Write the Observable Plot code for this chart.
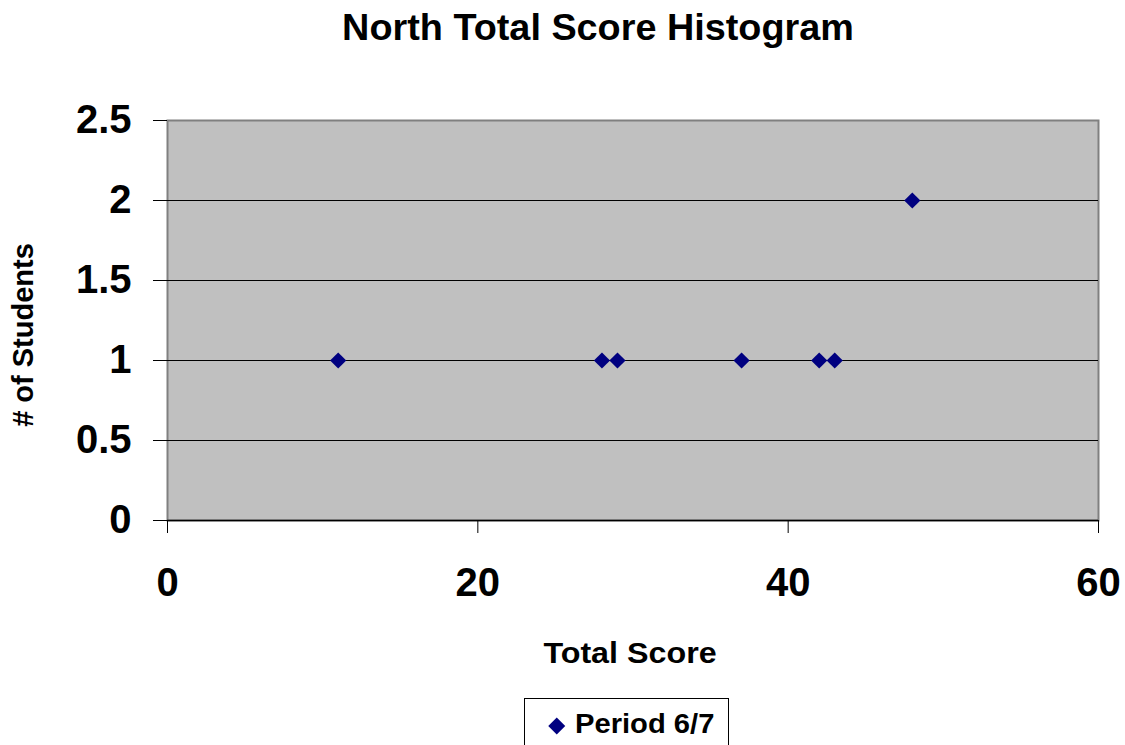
<!DOCTYPE html>
<html>
<head>
<meta charset="utf-8">
<script src="https://cdn.jsdelivr.net/npm/d3@7"></script>
<script src="https://cdn.jsdelivr.net/npm/@observablehq/plot@0.6"></script>
<style>
  html, body { margin: 0; padding: 0; background: white; }
  #wrap { position: relative; width: 1125px; height: 745px; overflow: hidden; font-family: "Liberation Sans", Arial, sans-serif; font-weight: bold; color: black; }
  #chart { position: absolute; left: 0; top: 0; }
  .lbl { position: absolute; white-space: nowrap; }
  #title { left: 598px; top: 9.5px; font-size: 36px; line-height: 36px; transform: translateX(-50%) scaleX(1.05); }
  #xlabel { left: 630px; top: 637.5px; font-size: 30px; line-height: 30px; transform: translateX(-50%) scaleX(1.075); }
  #ylabel { left: 22.5px; top: 335px; font-size: 29px; line-height: 29px; transform: translate(-50%, -50%) rotate(-90deg); }
  #legend { position: absolute; left: 524px; top: 698px; width: 205px; height: 80px; border: 1px solid black; box-sizing: border-box; background: white; }
  #legmark { left: 551px; top: 720px; width: 11.5px; height: 11.5px; background: #000080; transform: rotate(45deg); }
  #legtext { left: 575px; top: 711px; font-size: 27px; line-height: 27px; transform-origin: left center; transform: scaleX(1.08); }
</style>
</head>
<body>
<div id="wrap">
  <div id="chart"></div>
  <div class="lbl" id="title">North Total Score Histogram</div>
  <div class="lbl" id="xlabel">Total Score</div>
  <div class="lbl" id="ylabel"># of Students</div>
  <div id="legend"></div>
  <div class="lbl" id="legmark"></div>
  <div class="lbl" id="legtext">Period 6/7</div>
</div>
<script>
// Data
const seriesName = "Period 6/7";
const scores = [11, 28, 29, 37, 42, 43, 48];
const students = [1, 1, 1, 1, 1, 1, 2];
const xTicks = [0, 20, 40, 60];
const xTickLabels = ["0", "20", "40", "60"];
const yTicks = [0, 0.5, 1, 1.5, 2, 2.5];
const yTickLabels = ["0", "0.5", "1", "1.5", "2", "2.5"];
const yGrid = [0.5, 1, 1.5, 2];

const data = scores.map((s, i) => ({score: s, count: students[i], series: seriesName}));

const chart = Plot.plot({
  width: 1125,
  height: 745,
  marginLeft: 167,
  marginRight: 27,
  marginTop: 120,
  marginBottom: 225,
  style: {fontFamily: "'Liberation Sans', Arial, sans-serif", fontWeight: "bold", background: "transparent", color: "black", overflow: "visible"},
  x: {domain: [0, 60]},
  y: {domain: [0, 2.5]},
  marks: [
    Plot.frame({fill: "#c0c0c0", stroke: "#808080", strokeWidth: 2}),
    Plot.ruleY(yGrid, {stroke: "black", strokeWidth: 1}),
    Plot.ruleY([0], {stroke: "black", strokeWidth: 1.5}),
    Plot.axisY({ticks: yTicks, tickFormat: d => yTickLabels[yTicks.indexOf(d)], tickSize: 14, tickPadding: 22, fontSize: 40, fontWeight: "bold", label: null}),
    Plot.axisX({ticks: xTicks, tickFormat: d => xTickLabels[xTicks.indexOf(d)], tickSize: 13, tickPadding: 34, fontSize: 40, fontWeight: "bold", label: null}),
    Plot.dot(data, {x: "score", y: "count", symbol: "diamond2", fill: "#000080", stroke: null, r: 7.3})
  ]
});
document.getElementById("chart").appendChild(chart);
</script>
</body>
</html>
